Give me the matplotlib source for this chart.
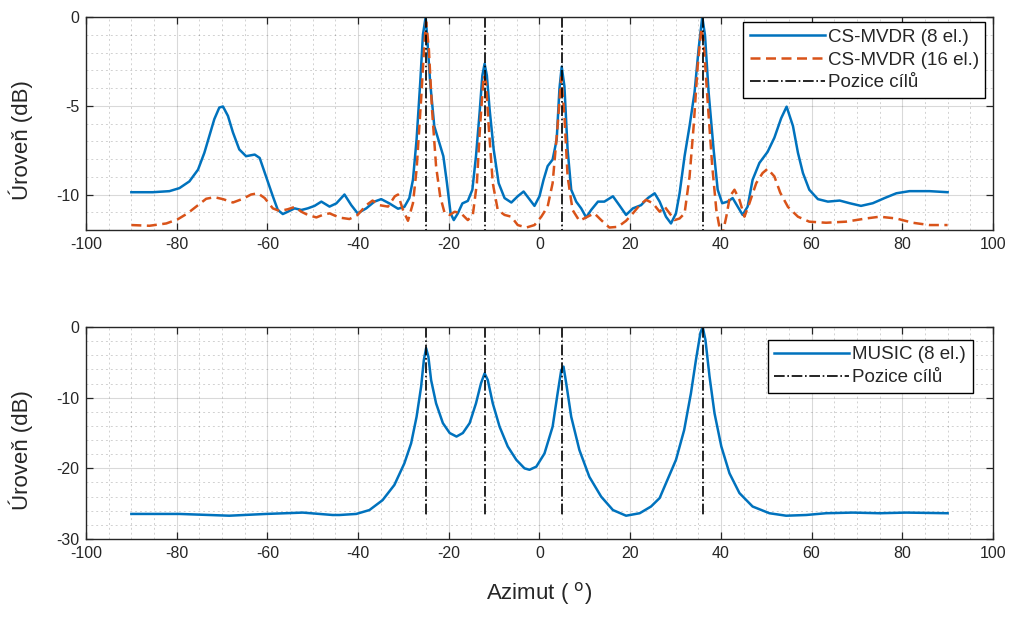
import numpy as np
import matplotlib.pyplot as plt
from matplotlib.ticker import MultipleLocator

plt.rcParams['font.family'] = ['Liberation Sans', 'DejaVu Sans']
plt.rcParams['axes.unicode_minus'] = False

# target azimuths (deg)
targets = [-25, -12, 5, 36]

# CS-MVDR, 8 elements
mvdr8_az = [-90.0, -85.3, -81.6, -79.4, -77.2, -75.3, -73.9, -72.8, -71.7, -70.6,
            -69.8, -68.7, -67.6, -66.2, -64.7, -62.8, -61.7, -60.3, -58.8, -57.7,
            -56.6, -55.5, -54.0, -52.5, -51.1, -49.6, -48.1, -46.3, -44.8, -43.0,
            -41.5, -40.1, -38.2, -36.4, -34.9, -33.1, -31.2, -29.8, -28.7, -27.9,
            -27.1, -26.3, -25.7, -25.1, -24.8, -24.1, -23.2, -22.1, -21.2, -20.4,
            -19.6, -18.9, -18.0, -17.0, -15.8, -14.8, -14.0, -13.2, -12.6, -12.1,
            -11.6, -11.0, -10.1, -9.0, -7.7, -6.2, -4.8, -3.5, -2.4, -1.1,
            0.0, 0.9, 1.8, 2.9, 3.8, 4.4, 4.9, 5.5, 6.2, 7.0,
            8.1, 9.2, 10.3, 11.4, 12.9, 14.3, 16.2, 17.6, 19.1, 20.6,
            22.4, 23.9, 25.4, 26.5, 27.9, 29.0, 30.1, 30.9, 32.0, 33.1,
            34.2, 35.1, 35.9, 36.5, 37.3, 38.4, 39.3, 40.3, 41.5, 42.6,
            43.7, 44.8, 45.9, 47.0, 48.5, 50.3, 51.8, 53.3, 54.5, 55.9,
            57.0, 58.1, 59.5, 61.4, 63.6, 66.2, 68.4, 70.9, 73.5, 76.1,
            78.7, 81.6, 86.0, 90.0]
mvdr8_db = [-9.87, -9.87, -9.81, -9.64, -9.26, -8.6, -7.65, -6.7, -5.75, -5.1,
            -5.04, -5.57, -6.5, -7.46, -7.84, -7.75, -7.94, -8.98, -10.1, -10.87,
            -11.1, -10.97, -10.78, -10.87, -10.78, -10.64, -10.4, -10.68, -10.5, -10.0,
            -10.6, -11.06, -10.78, -10.4, -10.26, -10.5, -10.8, -10.7, -10.2, -9.17,
            -6.9, -3.7, -1.0, 0.0, -1.0, -3.7, -6.14, -7.08, -7.84, -9.36,
            -11.06, -11.44, -11.06, -10.5, -10.36, -9.73, -7.84, -5.38, -3.3, -2.63,
            -3.3, -5.19, -7.46, -9.36, -10.2, -10.45, -10.1, -9.83, -10.2, -10.64,
            -10.1, -9.17, -8.4, -8.03, -6.9, -4.05, -2.8, -3.9, -7.46, -9.73,
            -10.4, -10.78, -11.29, -10.87, -10.4, -10.4, -10.1, -10.6, -11.15, -10.78,
            -10.6, -10.2, -9.93, -10.4, -11.25, -11.63, -11.06, -9.93, -7.84, -6.14,
            -4.24, -1.78, 0.0, -1.02, -4.24, -7.46, -9.73, -10.49, -10.4, -10.2,
            -10.68, -11.15, -10.68, -9.17, -8.22, -7.6, -6.8, -5.7, -5.05, -6.14,
            -7.65, -8.79, -9.73, -10.26, -10.4, -10.34, -10.49, -10.64, -10.49, -10.2,
            -9.93, -9.81, -9.81, -9.87]

# CS-MVDR, 16 elements
mvdr16_az = [-90.0, -86.0, -82.3, -79.8, -77.6, -75.3, -73.5, -71.7, -69.8, -67.6,
             -65.4, -63.6, -62.1, -60.6, -58.8, -57.3, -55.5, -54.0, -52.5, -51.1,
             -49.2, -47.8, -46.3, -44.1, -41.9, -40.1, -38.2, -36.8, -35.3, -33.4,
             -31.9, -31.2, -30.1, -29.0, -27.9, -27.1, -26.1, -25.4, -25.0, -24.4,
             -23.7, -22.8, -21.9, -20.9, -19.8, -18.7, -17.3, -15.8, -14.7, -13.8,
             -13.1, -12.3, -11.8, -11.2, -10.3, -9.2, -7.7, -6.2, -4.8, -2.9,
             -1.1, 0.4, 1.8, 2.9, 4.0, 4.8, 5.5, 6.2, 7.3, 8.8,
             10.6, 12.1, 13.6, 15.4, 17.3, 19.1, 20.6, 22.1, 23.5, 25.0,
             26.5, 27.6, 28.7, 29.8, 30.9, 32.0, 33.1, 34.0, 34.9, 35.7,
             36.2, 37.1, 38.1, 39.0, 39.8, 40.3, 41.2, 42.0, 43.0, 44.1,
             45.2, 46.3, 47.8, 49.2, 50.3, 51.8, 53.1, 54.8, 57.0, 59.5,
             63.2, 67.6, 72.0, 75.0, 78.7, 82.3, 86.0, 90.0]
mvdr16_db = [-11.72, -11.76, -11.63, -11.4, -11.06, -10.6, -10.24, -10.15, -10.26, -10.45,
             -10.24, -10.0, -9.93, -10.2, -10.78, -10.93, -10.83, -10.7, -10.97, -11.15,
             -11.29, -11.15, -11.06, -11.3, -11.38, -11.15, -10.6, -10.34, -10.6, -10.68,
             -10.1, -10.0, -10.87, -11.48, -10.49, -8.6, -4.62, -1.59, -0.27, -1.78,
             -5.19, -8.41, -10.1, -11.06, -11.15, -10.97, -11.06, -11.44, -11.15, -9.36,
             -6.14, -3.3, -3.68, -6.14, -9.36, -10.87, -11.15, -11.25, -11.72, -11.86,
             -11.72, -11.25, -10.68, -9.36, -6.14, -3.4, -5.57, -8.98, -10.87, -11.48,
             -11.25, -11.06, -11.44, -11.86, -11.82, -11.48, -11.06, -10.6, -10.3, -10.49,
             -10.97, -10.68, -11.06, -11.44, -11.35, -11.06, -8.98, -6.14, -2.73, -0.64,
             -1.4, -4.81, -8.41, -10.87, -12.0, -12.3, -11.25, -10.1, -9.73, -10.3,
             -11.25, -10.49, -9.36, -8.79, -8.55, -8.98, -9.9, -10.7, -11.25, -11.53,
             -11.59, -11.53, -11.35, -11.25, -11.35, -11.59, -11.72, -11.72]

# MUSIC, 8 elements
music_az = [-90.0, -79.4, -68.4, -60.3, -52.2, -45.6, -44.1, -40.4, -37.5, -34.6,
            -32.0, -29.8, -28.3, -27.1, -26.1, -25.5, -25.0, -24.5, -23.9, -22.8,
            -21.3, -19.8, -18.3, -16.9, -15.4, -14.0, -12.9, -12.1, -11.4, -10.3,
            -8.8, -7.0, -5.1, -3.3, -2.2, -0.7, 1.1, 2.9, 4.0, 4.8,
            5.3, 5.9, 7.0, 8.8, 11.0, 13.6, 16.2, 19.1, 22.1, 24.6,
            26.5, 27.9, 30.1, 31.9, 33.4, 34.5, 35.5, 36.0, 36.6, 37.5,
            38.6, 40.1, 41.9, 44.1, 47.0, 50.7, 54.4, 58.8, 63.2, 69.1,
            75.0, 80.9, 90.0]
music_db = [-26.45, -26.45, -26.7, -26.45, -26.26, -26.6, -26.6, -26.45, -25.9, -24.5,
            -22.35, -19.3, -16.45, -12.7, -8.44, -4.67, -3.0, -4.2, -7.5, -10.8,
            -13.6, -15.0, -15.5, -15.0, -13.6, -10.8, -7.97, -6.55, -7.5, -10.8,
            -14.1, -16.9, -18.8, -20.0, -20.2, -19.76, -17.9, -14.1, -9.38, -6.1,
            -5.6, -7.97, -12.7, -17.4, -21.2, -24.0, -25.9, -26.7, -26.35, -25.4,
            -24.2, -22.1, -18.8, -14.6, -9.38, -4.67, -0.8, 0.0, -1.84, -7.0,
            -12.2, -16.9, -20.7, -23.5, -25.4, -26.35, -26.7, -26.6, -26.35, -26.26,
            -26.35, -26.26, -26.35]

blue = '#0072BD'
orange = '#D95319'
axcol = '#262626'

fig = plt.figure(figsize=(10.13, 6.19), dpi=100)
ax1 = fig.add_axes([0.0849, 0.6284, 0.8953, 0.3441])
ax2 = fig.add_axes([0.0849, 0.1292, 0.8953, 0.3425])


def style(ax, ymin, ymaj, ymin_step):
    ax.set_xlim(-100, 100)
    ax.set_ylim(ymin, 0)
    ax.xaxis.set_major_locator(MultipleLocator(20))
    ax.xaxis.set_minor_locator(MultipleLocator(5))
    ax.yaxis.set_major_locator(MultipleLocator(ymaj))
    ax.yaxis.set_minor_locator(MultipleLocator(ymin_step))
    ax.grid(which='major', color='#000000', alpha=0.15, lw=0.8)
    ax.grid(which='minor', color='#000000', alpha=0.18, lw=0.7, ls=(0, (2, 3)))
    ax.tick_params(which='both', direction='in', top=True, right=True,
                   colors=axcol, labelsize=11.5, pad=5)
    ax.tick_params(which='major', length=5, width=0.9)
    ax.tick_params(which='minor', length=0)
    for s in ax.spines.values():
        s.set_color(axcol)
        s.set_linewidth(1.0)
    ax.set_axisbelow(True)
    ax.set_ylabel('Úroveň (dB)', fontsize=16, color=axcol)
    ax.yaxis.set_label_coords(-0.058, 0.42)


style(ax1, -12, 5, 1)
style(ax2, -30, 10, 2)

ax1.plot(mvdr8_az, mvdr8_db, color=blue, lw=1.8, label='CS-MVDR (8 el.)')
ax1.plot(mvdr16_az, mvdr16_db, color=orange, lw=1.8, ls=(0, (4, 2.2)),
         label='CS-MVDR (16 el.)')
low1 = min(min(mvdr8_db), min(mvdr16_db))
for i, t in enumerate(targets):
    ax1.plot([t, t], [0, low1], color='k', lw=1.2, ls='-.',
             label='Pozice cílů' if i == 0 else None)

ax2.plot(music_az, music_db, color=blue, lw=1.8, label='MUSIC (8 el.)')
low2 = min(music_db)
for i, t in enumerate(targets):
    ax2.plot([t, t], [0, low2], color='k', lw=1.2, ls='-.',
             label='Pozice cílů' if i == 0 else None)

leg_kw = dict(fontsize=13.5, fancybox=False, framealpha=1, edgecolor='k',
              handlelength=4.0, handletextpad=0.15, borderpad=0.35,
              labelspacing=0.3, borderaxespad=0)
l1 = ax1.legend(loc='upper right', bbox_to_anchor=(0.9915, 0.976), **leg_kw)
l2 = ax2.legend(loc='upper right', bbox_to_anchor=(0.9775, 0.94), **leg_kw)
for l in (l1, l2):
    l.get_frame().set_linewidth(1.0)
    for txt in l.get_texts():
        txt.set_color(axcol)

ax2.set_xlabel('Azimut ( $^{\\mathrm{o}}$)', fontsize=16, color=axcol, labelpad=14)

fig.savefig('out.png', dpi=100)
